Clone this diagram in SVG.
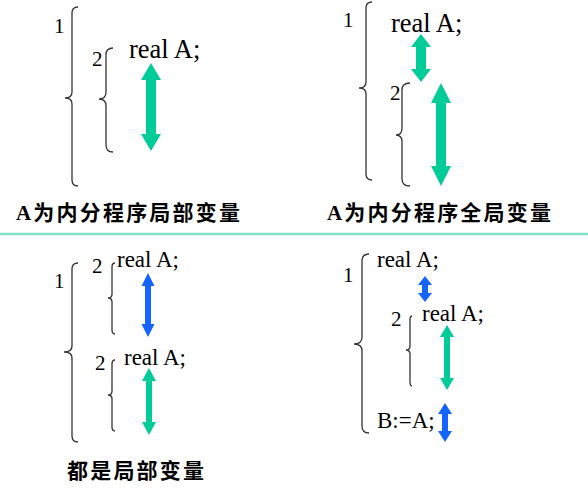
<svg xmlns="http://www.w3.org/2000/svg" width="588" height="490" viewBox="0 0 588 490">
<style>
.br{fill:none;stroke:#333;stroke-width:1.3}
.t{font-family:"Liberation Serif","Times New Roman",serif;fill:#000}
.n{font-family:"Liberation Serif","Times New Roman",serif;font-size:21px;fill:#000}
.cap{font-family:"Liberation Serif","Noto Sans CJK SC",serif;font-size:21px;font-weight:bold;letter-spacing:2.2px;fill:#000}
.g{fill:#00cc99}
.b{fill:#1464ff}
</style>
<rect width="588" height="490" fill="#fff"/>
<line x1="0" y1="234" x2="588" y2="234" stroke="#80e0c8" stroke-width="2.5"/>

<g id="panel-tl">
<text class="n" x="54" y="33">1</text>
<path class="br" d="M78,7 Q72,7 72,13 L72,92 Q72,98 65,98 Q72,98 72,104 L72,180 Q72,186 78,186"/>
<text class="n" x="92" y="66">2</text>
<path class="br" d="M113,48 Q106,48 106,55 L106,92 Q106,99 99,99 Q106,99 106,106 L106,145 Q106,152 113,152"/>
<text class="t" x="129" y="58" font-size="26.5">real A;</text>
<polygon class="g" points="151,63 161,80 156,80 156,134 161,134 151,151 141,134 146,134 146,80 141,80"/>
<text class="cap" x="16" y="220">A为内分程序局部变量</text>
</g>

<g id="panel-tr">
<text class="n" x="343" y="27">1</text>
<path class="br" d="M372,2 Q366,2 366,8 L366,82 Q366,88 359,88 Q366,88 366,94 L366,174 Q366,180 372,180"/>
<text class="t" x="391" y="32" font-size="26.5">real A;</text>
<polygon class="g" points="421,34 431,47 426,47 426,69 431,69 421,82 411,69 416,69 416,47 411,47"/>
<text class="n" x="390" y="100">2</text>
<path class="br" d="M410,83 Q402,83 402,90 L402,128 Q402,135 396,135 Q402,135 402,142 L402,179 Q402,186 410,186"/>
<polygon class="g" points="441,83 451,103 446,103 446,166 451,166 441,186 431,166 436,166 436,103 431,103"/>
<text class="cap" x="327" y="220">A为内分程序全局变量</text>
</g>

<g id="panel-bl">
<text class="n" x="54" y="288">1</text>
<path class="br" d="M78,263 Q72,263 72,269 L72,346 Q72,352 64,352 Q72,352 72,358 L72,436 Q72,442 78,442"/>
<text class="n" x="92" y="273">2</text>
<path class="br" d="M115,263 Q112,263 112,267 L112,294 Q112,298 108,298 Q112,298 112,302 L112,330 Q112,334 115,334"/>
<text class="t" x="117" y="267" font-size="23">real A;</text>
<polygon class="b" points="148,273 154.5,286 151,286 151,324 154.5,324 148,337 141.5,324 145,324 145,286 141.5,286"/>
<text class="n" x="95" y="370">2</text>
<path class="br" d="M115,360 Q112,360 112,364 L112,391 Q112,395 108,395 Q112,395 112,399 L112,427 Q112,431 115,431"/>
<text class="t" x="124" y="365" font-size="23">real A;</text>
<polygon class="g" points="149,368 156,381 152,381 152,422 156,422 149,435 142,422 146,422 146,381 142,381"/>
<text class="cap" x="67" y="478">都是局部变量</text>
</g>

<g id="panel-br">
<text class="n" x="343" y="282">1</text>
<path class="br" d="M369,254 Q362,254 362,261 L362,337 Q362,344 354,344 Q362,344 362,351 L362,426 Q362,433 369,433"/>
<text class="t" x="377" y="267" font-size="23">real A;</text>
<polygon class="b" points="425,276 432,285 428,285 428,293 432,293 425,302 418,293 422,293 422,285 418,285"/>
<text class="n" x="391" y="326">2</text>
<path class="br" d="M412,316 Q410,316 410,320 L410,346 Q410,350 406,350 Q410,350 410,354 L410,382 Q410,386 412,386"/>
<text class="t" x="422" y="321" font-size="23">real A;</text>
<polygon class="g" points="447,325 454,337 450,337 450,378 454,378 447,390 440,378 444,378 444,337 440,337"/>
<text class="t" x="377" y="428" font-size="23">B:=A;</text>
<polygon class="b" points="445,403 452,414 448,414 448,431 452,431 445,442 438,431 442,431 442,414 438,414"/>
</g>
</svg>
